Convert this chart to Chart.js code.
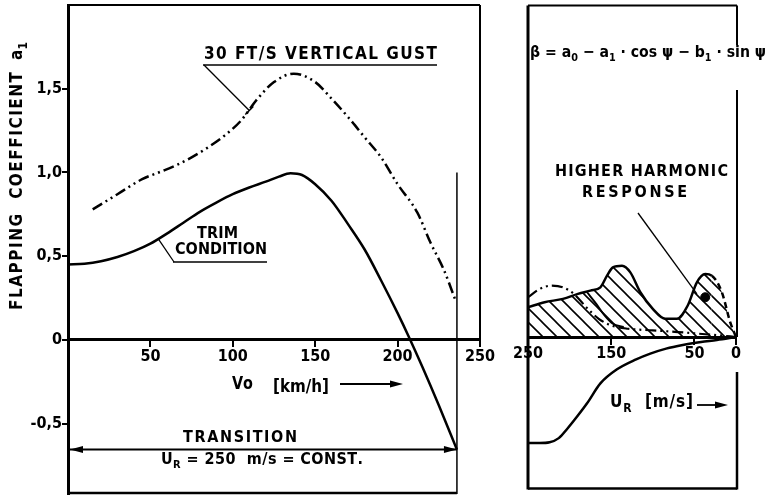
<!DOCTYPE html>
<html>
<head>
<meta charset="utf-8">
<script src="https://cdn.jsdelivr.net/npm/chart.js@4.4.0/dist/chart.umd.min.js"></script>
<style>
  html, body { margin: 0; padding: 0; background: #fff; }
  #wrap { position: relative; width: 766px; height: 495px; overflow: hidden; background: #fff; }
  #flapChart { position: absolute; left: 0; top: 0; }
  #urChart { position: absolute; left: 500px; top: 0; }
</style>
</head>
<body>
<div id="wrap">
  <canvas id="flapChart" width="500" height="495"></canvas>
  <canvas id="urChart" width="266" height="495"></canvas>
</div>
<script>
// left panel: forward speed Vo [km/h] -> flapping coefficient a1
const trimSpeed = [0, 10, 20, 30, 40, 50, 60, 70, 80, 90, 100, 110, 120, 128, 135, 142, 150, 160, 170, 180, 190, 200, 207, 215, 225, 236];
const trimA1 = [0.45, 0.455, 0.47, 0.495, 0.53, 0.575, 0.635, 0.70, 0.765, 0.82, 0.87, 0.91, 0.945, 0.975, 0.995, 0.985, 0.93, 0.83, 0.69, 0.54, 0.355, 0.16, 0.015, -0.16, -0.39, -0.655];
const gustSpeed = [15, 30, 45, 55, 65, 75, 85, 95, 105, 115, 125, 137, 150, 160, 170, 180, 190, 200, 212, 220, 228, 235];
const gustA1 = [0.78, 0.87, 0.96, 1.0, 1.04, 1.09, 1.15, 1.22, 1.31, 1.44, 1.54, 1.59, 1.54, 1.44, 1.33, 1.21, 1.09, 0.93, 0.76, 0.58, 0.42, 0.24];
const yTicks = [-0.5, 0, 0.5, 1.0, 1.5];
const transitionEnd = 236;
const transitionLevel = -0.655;
const transitionTop = 1.0;

// right panel: rotor speed U_R [m/s] (axis runs 250 -> 0)
const urTicks = [250, 150, 50, 0];
const urTrim = [250, 236, 224, 213, 203, 191, 179, 163, 143, 120, 103, 84, 64, 42, 23, 0];
const urTrimA1 = [-0.64, -0.64, -0.635, -0.61, -0.555, -0.48, -0.40, -0.28, -0.195, -0.135, -0.10, -0.07, -0.048, -0.03, -0.018, 0];
const harmUR = [250, 230, 208, 190, 175, 163, 155, 148, 137, 127, 115, 100, 85, 71, 58, 47, 37, 29, 17, 7, 0];
const harmA1 = [0.18, 0.21, 0.23, 0.26, 0.28, 0.30, 0.37, 0.42, 0.43, 0.39, 0.27, 0.17, 0.11, 0.11, 0.19, 0.33, 0.38, 0.37, 0.27, 0.09, 0];
const gustUR = [250, 236, 222, 208, 195, 180, 165, 150, 130, 100, 70, 45, 20, 0];
const gustUrA1 = [0.24, 0.29, 0.31, 0.30, 0.26, 0.18, 0.11, 0.07, 0.05, 0.04, 0.03, 0.02, 0.01, 0];
const innerUR = [179, 168, 158, 148, 135];
const innerA1 = [0.27, 0.20, 0.13, 0.08, 0.06];
const dotUR = [37];
const dotA1 = [0.24];

const Y_MIN = -0.92, Y_MAX = 2.0;
const FONT = '"DejaVu Sans Condensed", "Liberation Sans Narrow", "DejaVu Sans", sans-serif';

const pts = (xs, ys) => xs.map((v, i) => ({ x: v, y: ys[i] }));
const comma = v => (v === 0 ? '0' : v.toFixed(1).replace('.', ','));

function seg(ctx, x1, y1, x2, y2, w) {
  ctx.lineWidth = w;
  ctx.beginPath();
  ctx.moveTo(x1, y1);
  ctx.lineTo(x2, y2);
  ctx.stroke();
}

function head(ctx, x, y, dir) {
  ctx.beginPath();
  ctx.moveTo(x, y);
  ctx.lineTo(x - dir * 13, y - 3.5);
  ctx.lineTo(x - dir * 13, y + 3.5);
  ctx.closePath();
  ctx.fill();
}

// letters spread evenly over a given width (the drawing is hand-lettered)
function drawSpaced(ctx, runs, left, cy, width, size) {
  if (typeof runs === 'string') runs = [{ t: runs }];
  ctx.save();
  ctx.textBaseline = 'middle';
  ctx.textAlign = 'left';
  const chars = [];
  runs.forEach(r => {
    const px = r.sub ? Math.round(size * 0.68) : size;
    ctx.font = 'bold ' + px + 'px ' + FONT;
    for (const ch of r.t) {
      chars.push({ ch, font: ctx.font, w: ctx.measureText(ch).width, dy: r.sub ? size * 0.32 : 0 });
    }
  });
  const natural = chars.reduce((s, c) => s + c.w, 0);
  let gap = 0, k = 1;
  if (natural < width && chars.length > 1) gap = (width - natural) / (chars.length - 1);
  else k = width / natural;
  ctx.translate(left, cy);
  ctx.scale(k, 1);
  let x = 0;
  chars.forEach(c => {
    ctx.font = c.font;
    ctx.fillText(c.ch, x, c.dy);
    x += c.w + gap;
  });
  ctx.restore();
}

function hatch() {
  const c = document.createElement('canvas');
  c.width = 14; c.height = 14;
  const g = c.getContext('2d');
  g.strokeStyle = '#000';
  g.lineWidth = 1.6;
  g.beginPath();
  g.moveTo(-2, -2); g.lineTo(16, 16);
  g.moveTo(-2, 12); g.lineTo(2, 16);
  g.moveTo(12, -2); g.lineTo(16, 2);
  g.stroke();
  return g.createPattern(c, 'repeat');
}

const tickFont = { family: FONT, size: 16, weight: 'bold' };

// Left panel decorations
const leftDeco = {
  id: 'leftDeco',
  afterDraw(chart) {
    const { ctx, chartArea: a, scales: { x, y } } = chart;
    ctx.save();
    ctx.strokeStyle = '#000';
    ctx.fillStyle = '#000';

    seg(ctx, a.left, a.top, a.right, a.top, 2);
    seg(ctx, a.right, a.top, a.right, y.getPixelForValue(0), 2);
    seg(ctx, a.left, a.bottom - 1, x.getPixelForValue(transitionEnd), a.bottom - 1, 2.5);

    const ty = y.getPixelForValue(transitionLevel);
    head(ctx, a.left + 2, ty, -1);
    head(ctx, x.getPixelForValue(transitionEnd), ty, 1);

    // gust label
    drawSpaced(ctx, '30 FT/S VERTICAL GUST', 204, 55, 233, 17);
    seg(ctx, 203, 65, 437, 65, 1.5);
    const gx = x.getPixelForValue(110), gy = y.getPixelForValue(1.37);
    seg(ctx, 204, 65, gx, gy, 1.3);
    seg(ctx, gx - 4, gy + 4, gx + 4, gy - 4, 1.5);

    // trim label
    drawSpaced(ctx, 'TRIM', 197, 234, 41, 16);
    drawSpaced(ctx, 'CONDITION', 175, 250, 92, 16);
    seg(ctx, 173, 262, 267, 262, 1.5);
    seg(ctx, 174, 262, x.getPixelForValue(55), y.getPixelForValue(0.60), 1.3);

    // x axis title
    drawSpaced(ctx, 'Vo', 232, 385, 21, 17);
    drawSpaced(ctx, '[km/h]', 273, 388, 56, 17);
    seg(ctx, 340, 384, 392, 384, 1.8);
    head(ctx, 403, 384, 1);

    drawSpaced(ctx, 'TRANSITION', 183, 438, 114, 16);
    drawSpaced(ctx, [{ t: 'U' }, { t: 'R', sub: true }, { t: ' = 250  m/s = CONST.' }], 161, 460, 202, 16);

    // y axis title, rotated
    ctx.save();
    ctx.translate(18, 0);
    ctx.rotate(-Math.PI / 2);
    drawSpaced(ctx, 'FLAPPING  COEFFICIENT', -310, 0, 238, 17);
    drawSpaced(ctx, [{ t: 'a' }, { t: '1', sub: true }], -60, 0, 18, 17);
    ctx.restore();

    ctx.restore();
  }
};

// Right panel decorations
const rightDeco = {
  id: 'rightDeco',
  afterDraw(chart) {
    const { ctx, chartArea: a, scales: { x, y } } = chart;
    const y0 = y.getPixelForValue(0);
    ctx.save();
    ctx.strokeStyle = '#000';
    ctx.fillStyle = '#000';

    seg(ctx, a.left, a.top, a.right + 1, a.top, 2);
    seg(ctx, a.left, a.top, a.left, a.bottom, 3);
    seg(ctx, a.right + 1, a.top, a.right + 1, 45, 2);
    seg(ctx, a.right + 1, 90, a.right + 1, y0, 2);
    seg(ctx, a.right + 1, y0 + 35, a.right + 1, a.bottom, 2.5);
    seg(ctx, a.left, a.bottom - 1, a.right + 1, a.bottom - 1, 2.5);

    drawSpaced(ctx, [
      { t: 'β' }, { t: ' = a' }, { t: '0', sub: true }, { t: ' − a' }, { t: '1', sub: true },
      { t: ' · cos ψ − b' }, { t: '1', sub: true }, { t: ' · sin ψ' }
    ], 30, 53, 236, 16);

    drawSpaced(ctx, 'HIGHER HARMONIC', 55, 172, 173, 16);
    drawSpaced(ctx, 'RESPONSE', 82, 193, 105, 16);
    seg(ctx, 138, 213, x.getPixelForValue(47), y.getPixelForValue(0.26), 1.3);

    drawSpaced(ctx, [{ t: 'U' }, { t: 'R', sub: true }, { t: '  [m/s]' }], 110, 403, 83, 17);
    seg(ctx, 197, 405, 217, 405, 1.8);
    head(ctx, 228, 405, 1);

    ctx.restore();
  }
};

const blackLine = (data, extra) => Object.assign({
  data,
  borderColor: '#000',
  borderWidth: 2.5,
  pointRadius: 0,
  cubicInterpolationMode: 'monotone',
  fill: false
}, extra);

// keep the plot area exactly where the frame is: no extra label padding
const noPad = s => { s.paddingTop = 0; s.paddingBottom = 0; s.paddingLeft = 0; s.paddingRight = 0; };

new Chart(document.getElementById('flapChart'), {
  type: 'line',
  data: {
    datasets: [
      blackLine(pts(trimSpeed, trimA1)),
      blackLine(pts(gustSpeed, gustA1), { borderDash: [11, 4, 2, 4, 2, 4] }),
      blackLine(pts([transitionEnd, transitionEnd], [transitionTop, Y_MIN]), { borderWidth: 1.5 }),
      blackLine(pts([0, transitionEnd], [transitionLevel, transitionLevel]), { borderWidth: 2 })
    ]
  },
  options: {
    responsive: false,
    animation: false,
    layout: { padding: { left: 0, top: 5, right: 20, bottom: 1 } },
    plugins: { legend: { display: false }, tooltip: { enabled: false } },
    scales: {
      x: {
        type: 'linear',
        min: 0,
        max: 250,
        position: { y: 0 },
        afterFit: s => { s.height = 0; noPad(s); },
        border: { display: true, color: '#000', width: 3 },
        grid: { drawOnChartArea: false, drawTicks: true, tickLength: 6, color: '#000', lineWidth: 2 },
        ticks: {
          stepSize: 50,
          color: '#000',
          font: tickFont,
          padding: 1,
          maxRotation: 0,
          callback: v => (v === 0 ? '' : String(v))
        }
      },
      y: {
        type: 'linear',
        min: Y_MIN,
        max: Y_MAX,
        afterFit: s => { s.width = 68; noPad(s); },
        afterBuildTicks: s => { s.ticks = yTicks.map(v => ({ value: v })); },
        border: { display: true, color: '#000', width: 3 },
        grid: { drawOnChartArea: false, drawTicks: true, tickLength: 6, color: '#000', lineWidth: 2 },
        ticks: { color: '#000', font: tickFont, padding: 0, callback: v => comma(v) }
      }
    }
  },
  plugins: [leftDeco]
});

new Chart(document.getElementById('urChart'), {
  type: 'line',
  data: {
    datasets: [
      blackLine(pts(harmUR, harmA1), {
        fill: 'origin',
        backgroundColor: hatch(),
        segment: { borderDash: c => (c.p0.parsed.x < 34 ? [6, 4] : undefined) }
      }),
      blackLine(pts(gustUR, gustUrA1), { borderWidth: 2.2, borderDash: [11, 4, 2, 4, 2, 4] }),
      blackLine(pts(innerUR, innerA1), { borderWidth: 2 }),
      blackLine(pts(urTrim, urTrimA1)),
      {
        data: pts(dotUR, dotA1),
        showLine: false,
        pointRadius: 4.5,
        pointBackgroundColor: '#000',
        pointBorderColor: '#000'
      }
    ]
  },
  options: {
    responsive: false,
    animation: false,
    layout: { padding: { left: 28, top: 5, right: 30, bottom: 1 } },
    plugins: { legend: { display: false }, tooltip: { enabled: false } },
    scales: {
      x: {
        type: 'linear',
        min: 0,
        max: 250,
        reverse: true,
        position: { y: 0 },
        afterFit: s => { s.height = 0; noPad(s); },
        afterBuildTicks: s => { s.ticks = urTicks.map(v => ({ value: v })); },
        border: { display: true, color: '#000', width: 3 },
        grid: { drawOnChartArea: false, drawTicks: true, tickLength: 6, color: '#000', lineWidth: 2 },
        ticks: { color: '#000', font: tickFont, padding: 1, maxRotation: 0, autoSkip: false }
      },
      y: {
        type: 'linear',
        min: Y_MIN,
        max: Y_MAX,
        display: false
      }
    }
  },
  plugins: [rightDeco]
});
</script>
</body>
</html>
